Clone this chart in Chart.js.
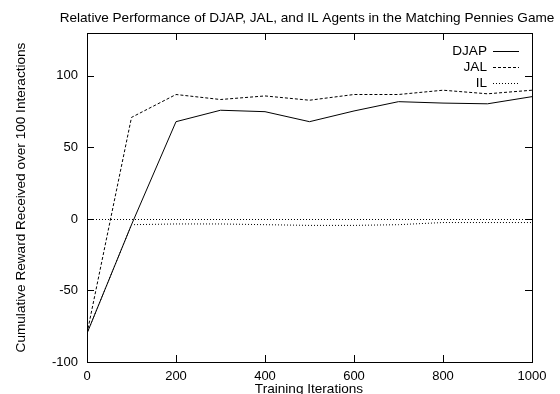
<!DOCTYPE html>
<html>
<head>
<meta charset="utf-8">
<script src="https://cdn.jsdelivr.net/npm/chart.js@4.4.1/dist/chart.umd.min.js"></script>
<style>
  html, body { margin: 0; padding: 0; background: #fff; }
  #wrap { width: 560px; height: 394px; position: relative; }
</style>
</head>
<body>
<div id="wrap"><canvas id="grafico"></canvas></div>
<script>
// Datos
const iteraciones = [0, 100, 200, 300, 400, 500, 600, 700, 800, 900, 1000];
const djap = [-80, -4, 68, 76, 75, 68, 75.5, 82, 81, 80.5, 85.5];
const jal = [-80, 71, 87, 83.5, 86, 83, 87, 87, 90, 87.5, 90];
const il = [-80, -4, -3.5, -3.5, -4, -4.5, -4.5, -4, -2.5, -2.5, -2.5];

const xTicks = [0, 200, 400, 600, 800, 1000];
const yTicks = [-100, -50, 0, 50, 100];

const titulo = 'Relative Performance of DJAP, JAL, and IL Agents in the Matching Pennies Game';
const tituloX = 'Training Iterations';
const tituloY = 'Cumulative Reward Received over 100 Interactions';

const FONT = '"Liberation Sans", Arial, Helvetica, sans-serif';
const TXT = '13.6px ' + FONT;
const pts = (ys) => ys.map((y, i) => ({ x: iteraciones[i], y }));

// Marco, marcas hacia dentro, eje cero, leyenda y títulos al estilo gnuplot
const estiloGnuplot = {
  id: 'estiloGnuplot',
  afterDatasetsDraw(chart) {
    const { ctx, chartArea: a, scales: { x, y } } = chart;
    ctx.save();
    // línea de cero punteada
    const y0 = Math.round(y.getPixelForValue(0)) + 0.5;
    ctx.strokeStyle = '#000';
    ctx.lineWidth = 1;
    ctx.setLineDash([1, 2]);
    ctx.beginPath();
    ctx.moveTo(a.left, y0);
    ctx.lineTo(a.right, y0);
    ctx.stroke();
    ctx.setLineDash([]);

    // marco
    ctx.strokeRect(Math.round(a.left) + 0.5, Math.round(a.top) + 0.5,
      Math.round(a.right - a.left), Math.round(a.bottom - a.top));

    const t = 7;
    ctx.beginPath();
    xTicks.forEach((v) => {
      const px = Math.round(x.getPixelForValue(v)) + 0.5;
      ctx.moveTo(px, a.bottom); ctx.lineTo(px, a.bottom - t);
      ctx.moveTo(px, a.top); ctx.lineTo(px, a.top + t);
    });
    yTicks.forEach((v) => {
      const py = Math.round(y.getPixelForValue(v)) + 0.5;
      ctx.moveTo(a.left, py); ctx.lineTo(a.left + t, py);
      ctx.moveTo(a.right, py); ctx.lineTo(a.right - t, py);
    });
    ctx.stroke();

    // leyenda
    ctx.font = TXT;
    ctx.fillStyle = '#000';
    ctx.textAlign = 'right';
    ctx.textBaseline = 'middle';
    chart.data.datasets.forEach((ds, i) => {
      const ly = 51 + i * 16;
      ctx.fillText(ds.label, 487, ly);
      ctx.setLineDash(ds.borderDash || []);
      ctx.beginPath();
      ctx.moveTo(493, ly + 0.5);
      ctx.lineTo(519, ly + 0.5);
      ctx.stroke();
    });
    ctx.setLineDash([]);

    // títulos
    ctx.textAlign = 'center';
    ctx.textBaseline = 'alphabetic';
    ctx.fillText(titulo, 307, 22);
    ctx.fillText(tituloX, 309, 393);
    ctx.translate(25, (a.top + a.bottom) / 2);
    ctx.rotate(-Math.PI / 2);
    ctx.fillText(tituloY, 0, 0);
    ctx.restore();
  },
};

new Chart(document.getElementById('grafico'), {
  type: 'line',
  data: {
    datasets: [
      { label: 'DJAP', data: pts(djap), borderColor: '#000', borderWidth: 1, pointRadius: 0, tension: 0 },
      { label: 'JAL', data: pts(jal), borderColor: '#000', borderWidth: 1, borderDash: [3, 2], pointRadius: 0, tension: 0 },
      { label: 'IL', data: pts(il), borderColor: '#000', borderWidth: 1, borderDash: [1, 2], pointRadius: 0, tension: 0 },
    ],
  },
  options: {
    responsive: true,
    maintainAspectRatio: false,
    animation: false,
    layout: { padding: { top: 33, right: 28, left: 0, bottom: 0 } },
    plugins: { legend: { display: false }, tooltip: { enabled: false }, title: { display: false } },
    scales: {
      x: {
        type: 'linear',
        min: 0,
        max: 1000,
        afterBuildTicks: (s) => { s.ticks = xTicks.map((v) => ({ value: v })); },
        afterFit: (s) => { s.height = 32; },
        grid: { display: false, drawTicks: false },
        border: { display: false },
        ticks: { color: '#000', font: { family: FONT, size: 13 }, padding: 7, maxRotation: 0, callback: (v) => String(v) },
      },
      y: {
        min: -100,
        max: 130,
        afterBuildTicks: (s) => { s.ticks = yTicks.map((v) => ({ value: v })); },
        afterFit: (s) => { s.width = 87; },
        grid: { display: false, drawTicks: false },
        border: { display: false },
        ticks: { color: '#000', font: { family: FONT, size: 13 }, padding: 9, callback: (v) => String(v) },
      },
    },
  },
  plugins: [estiloGnuplot],
});
</script>
</body>
</html>
